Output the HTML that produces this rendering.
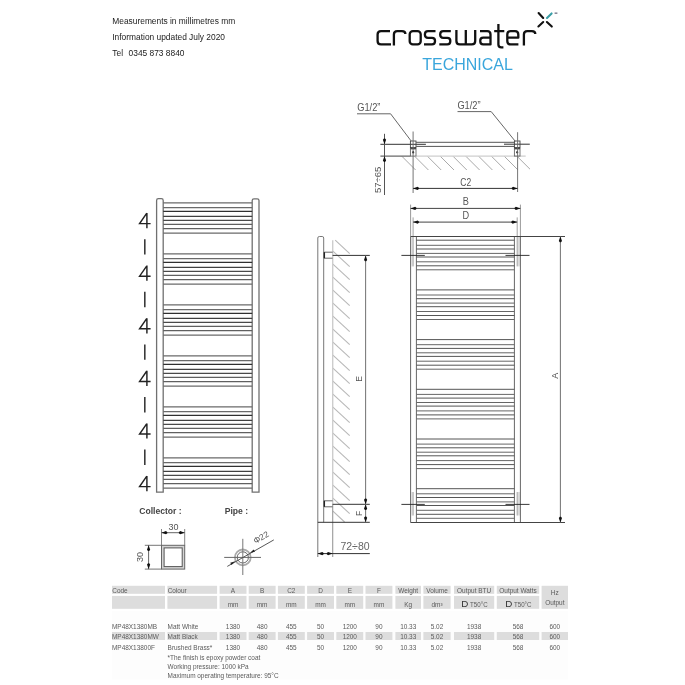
<!DOCTYPE html>
<html><head><meta charset="utf-8"><style>
html,body{margin:0;padding:0;background:#fff;}
body{width:685px;height:685px;overflow:hidden;}
svg{display:block;will-change:transform;font-family:"Liberation Sans",sans-serif;}
</style></head><body>
<svg width="685" height="685" viewBox="0 0 685 685">
<rect width="685" height="685" fill="#fff"/>
<text x="112.3" y="24.2" font-size="8.4" fill="#222" text-anchor="start" font-weight="normal" >Measurements in millimetres mm</text>
<text x="112.3" y="39.9" font-size="8.4" fill="#222" text-anchor="start" font-weight="normal" >Information updated July 2020</text>
<text x="112.3" y="55.6" font-size="8.4" fill="#222" text-anchor="start" font-weight="normal" >Tel</text>
<text x="128.6" y="55.6" font-size="8.4" fill="#222" text-anchor="start" font-weight="normal" >0345 873 8840</text>
<g fill="none" stroke="#111" stroke-width="2.3" stroke-linecap="butt" stroke-linejoin="round">
<path d="M390,31.1 H381 Q377.6,31.1 377.6,34.5 V41 Q377.6,44.4 381,44.4 H391"/>
<path d="M393.9,45.6 V34.5 Q393.9,31.1 397.3,31.1 H402 Q405.4,31.1 405.4,34"/>
<rect x="409.7" y="31.1" width="11" height="13.3" rx="3.2"/>
<path d="M435.5,31.1 H428 Q424.9,31.1 424.9,34.2 V34.8 Q424.9,37.8 428,37.8 H432 Q435,37.8 435,40.8 V41.3 Q435,44.4 432,44.4 H424"/>
<path d="M450.8,31.1 H443.3 Q440.2,31.1 440.2,34.2 V34.8 Q440.2,37.8 443.3,37.8 H447.3 Q450.3,37.8 450.3,40.8 V41.3 Q450.3,44.4 447.3,44.4 H439.3"/>
<path d="M456.4,30 V41 Q456.4,44.4 459.8,44.4 H471.8 Q475.2,44.4 475.2,41 V30 M465.8,30 V44.4"/>
<path d="M480,31.1 H487.3 Q490.5,31.1 490.5,34.5 V44.4 H483.2 Q480.3,44.4 480.3,41.5 V40.3 Q480.3,37.6 483.2,37.6 H490.5"/>
<path d="M498.4,24 V44.5 Q498.4,47.4 501.3,47.4 H503.4 M494.2,31.1 H504.3"/>
<path d="M518.4,44.4 H510.6 Q507.3,44.4 507.3,41 V34.5 Q507.3,31.1 510.6,31.1 H515 Q518.3,31.1 518.3,34.5 V37.7 H507.3"/>
<path d="M523.9,45.6 V34.5 Q523.9,31.1 527.3,31.1 H531.9 Q535.3,31.1 535.3,34"/>
</g>
<g stroke-width="2.1" stroke-linecap="round">
<line x1="538.6" y1="13" x2="543.2" y2="18" stroke="#111"/>
<line x1="538.4" y1="26.5" x2="543.2" y2="22" stroke="#111"/>
<line x1="546.9" y1="22" x2="551.8" y2="26.6" stroke="#111"/>
<line x1="547" y1="17.9" x2="551.6" y2="13.4" stroke="#3b9ea6"/>
</g>
<rect x="554.6" y="12.4" width="2.8" height="1.6" fill="#8a8a9a"/>
<text x="422.2" y="69.7" font-size="16" fill="#3aa6dc" text-anchor="start" font-weight="normal" >TECHNICAL</text>
<g fill="none" stroke="#666" stroke-width="1">
<path d="M156.6,492.2 V200.4 Q156.6,198.6 158.4,198.6 H161.4 Q163.2,198.6 163.2,200.4 V492.2 Z" stroke="#707070" stroke-width="1.3"/>
<path d="M252.2,492.2 V200.6 Q252.2,198.8 254,198.8 H257.2 Q259,198.8 259,200.6 V492.2 Z" stroke="#707070" stroke-width="1.3"/>
</g>
<line x1="163.2" y1="202.9" x2="252.2" y2="202.9" stroke="#6a6a6a" stroke-width="1.25"/>
<line x1="163.2" y1="207.7" x2="252.2" y2="207.7" stroke="#6a6a6a" stroke-width="1.25"/>
<line x1="163.2" y1="211.4" x2="252.2" y2="211.4" stroke="#303030" stroke-width="1.25"/>
<line x1="163.2" y1="216.3" x2="252.2" y2="216.3" stroke="#404040" stroke-width="1.25"/>
<line x1="163.2" y1="220.3" x2="252.2" y2="220.3" stroke="#4a4a4a" stroke-width="1.25"/>
<line x1="163.2" y1="224.4" x2="252.2" y2="224.4" stroke="#606060" stroke-width="1.25"/>
<line x1="163.2" y1="228.5" x2="252.2" y2="228.5" stroke="#606060" stroke-width="1.25"/>
<line x1="163.2" y1="233.1" x2="252.2" y2="233.1" stroke="#6a6a6a" stroke-width="1.25"/>
<line x1="163.2" y1="253.9" x2="252.2" y2="253.9" stroke="#6a6a6a" stroke-width="1.25"/>
<line x1="163.2" y1="258.7" x2="252.2" y2="258.7" stroke="#6a6a6a" stroke-width="1.25"/>
<line x1="163.2" y1="262.4" x2="252.2" y2="262.4" stroke="#303030" stroke-width="1.25"/>
<line x1="163.2" y1="267.3" x2="252.2" y2="267.3" stroke="#404040" stroke-width="1.25"/>
<line x1="163.2" y1="271.3" x2="252.2" y2="271.3" stroke="#4a4a4a" stroke-width="1.25"/>
<line x1="163.2" y1="275.4" x2="252.2" y2="275.4" stroke="#606060" stroke-width="1.25"/>
<line x1="163.2" y1="279.5" x2="252.2" y2="279.5" stroke="#606060" stroke-width="1.25"/>
<line x1="163.2" y1="284.1" x2="252.2" y2="284.1" stroke="#6a6a6a" stroke-width="1.25"/>
<line x1="163.2" y1="304.9" x2="252.2" y2="304.9" stroke="#6a6a6a" stroke-width="1.25"/>
<line x1="163.2" y1="309.7" x2="252.2" y2="309.7" stroke="#6a6a6a" stroke-width="1.25"/>
<line x1="163.2" y1="313.4" x2="252.2" y2="313.4" stroke="#303030" stroke-width="1.25"/>
<line x1="163.2" y1="318.3" x2="252.2" y2="318.3" stroke="#404040" stroke-width="1.25"/>
<line x1="163.2" y1="322.3" x2="252.2" y2="322.3" stroke="#4a4a4a" stroke-width="1.25"/>
<line x1="163.2" y1="326.4" x2="252.2" y2="326.4" stroke="#606060" stroke-width="1.25"/>
<line x1="163.2" y1="330.5" x2="252.2" y2="330.5" stroke="#606060" stroke-width="1.25"/>
<line x1="163.2" y1="335.1" x2="252.2" y2="335.1" stroke="#6a6a6a" stroke-width="1.25"/>
<line x1="163.2" y1="355.9" x2="252.2" y2="355.9" stroke="#6a6a6a" stroke-width="1.25"/>
<line x1="163.2" y1="360.7" x2="252.2" y2="360.7" stroke="#6a6a6a" stroke-width="1.25"/>
<line x1="163.2" y1="364.4" x2="252.2" y2="364.4" stroke="#303030" stroke-width="1.25"/>
<line x1="163.2" y1="369.3" x2="252.2" y2="369.3" stroke="#404040" stroke-width="1.25"/>
<line x1="163.2" y1="373.3" x2="252.2" y2="373.3" stroke="#4a4a4a" stroke-width="1.25"/>
<line x1="163.2" y1="377.4" x2="252.2" y2="377.4" stroke="#606060" stroke-width="1.25"/>
<line x1="163.2" y1="381.5" x2="252.2" y2="381.5" stroke="#606060" stroke-width="1.25"/>
<line x1="163.2" y1="386.1" x2="252.2" y2="386.1" stroke="#6a6a6a" stroke-width="1.25"/>
<line x1="163.2" y1="406.9" x2="252.2" y2="406.9" stroke="#6a6a6a" stroke-width="1.25"/>
<line x1="163.2" y1="411.7" x2="252.2" y2="411.7" stroke="#6a6a6a" stroke-width="1.25"/>
<line x1="163.2" y1="415.4" x2="252.2" y2="415.4" stroke="#303030" stroke-width="1.25"/>
<line x1="163.2" y1="420.3" x2="252.2" y2="420.3" stroke="#404040" stroke-width="1.25"/>
<line x1="163.2" y1="424.3" x2="252.2" y2="424.3" stroke="#4a4a4a" stroke-width="1.25"/>
<line x1="163.2" y1="428.4" x2="252.2" y2="428.4" stroke="#606060" stroke-width="1.25"/>
<line x1="163.2" y1="432.5" x2="252.2" y2="432.5" stroke="#606060" stroke-width="1.25"/>
<line x1="163.2" y1="437.1" x2="252.2" y2="437.1" stroke="#6a6a6a" stroke-width="1.25"/>
<line x1="163.2" y1="457.9" x2="252.2" y2="457.9" stroke="#6a6a6a" stroke-width="1.25"/>
<line x1="163.2" y1="462.7" x2="252.2" y2="462.7" stroke="#6a6a6a" stroke-width="1.25"/>
<line x1="163.2" y1="466.4" x2="252.2" y2="466.4" stroke="#303030" stroke-width="1.25"/>
<line x1="163.2" y1="471.3" x2="252.2" y2="471.3" stroke="#404040" stroke-width="1.25"/>
<line x1="163.2" y1="475.3" x2="252.2" y2="475.3" stroke="#4a4a4a" stroke-width="1.25"/>
<line x1="163.2" y1="479.4" x2="252.2" y2="479.4" stroke="#606060" stroke-width="1.25"/>
<line x1="163.2" y1="483.5" x2="252.2" y2="483.5" stroke="#606060" stroke-width="1.25"/>
<line x1="163.2" y1="488.1" x2="252.2" y2="488.1" stroke="#6a6a6a" stroke-width="1.25"/>
<path transform="translate(0,0.0)" d="M146.8,213.2 L139.6,223.6 H150.6 M146.9,213 V228.2" fill="none" stroke="#222" stroke-width="1.45" stroke-linejoin="miter"/>
<path transform="translate(0,52.6)" d="M146.8,213.2 L139.6,223.6 H150.6 M146.9,213 V228.2" fill="none" stroke="#222" stroke-width="1.45" stroke-linejoin="miter"/>
<path transform="translate(0,105.2)" d="M146.8,213.2 L139.6,223.6 H150.6 M146.9,213 V228.2" fill="none" stroke="#222" stroke-width="1.45" stroke-linejoin="miter"/>
<path transform="translate(0,157.8)" d="M146.8,213.2 L139.6,223.6 H150.6 M146.9,213 V228.2" fill="none" stroke="#222" stroke-width="1.45" stroke-linejoin="miter"/>
<path transform="translate(0,210.4)" d="M146.8,213.2 L139.6,223.6 H150.6 M146.9,213 V228.2" fill="none" stroke="#222" stroke-width="1.45" stroke-linejoin="miter"/>
<path transform="translate(0,263.0)" d="M146.8,213.2 L139.6,223.6 H150.6 M146.9,213 V228.2" fill="none" stroke="#222" stroke-width="1.45" stroke-linejoin="miter"/>
<line x1="144.8" y1="239.2" x2="144.8" y2="254.6" stroke="#3a3a3a" stroke-width="1.6"/>
<line x1="144.8" y1="291.8" x2="144.8" y2="307.2" stroke="#3a3a3a" stroke-width="1.6"/>
<line x1="144.8" y1="344.4" x2="144.8" y2="359.8" stroke="#3a3a3a" stroke-width="1.6"/>
<line x1="144.8" y1="397.0" x2="144.8" y2="412.4" stroke="#3a3a3a" stroke-width="1.6"/>
<line x1="144.8" y1="449.6" x2="144.8" y2="465.0" stroke="#3a3a3a" stroke-width="1.6"/>
<g stroke="#bbb" stroke-width="0.9">
<line x1="402.2" y1="156.6" x2="415.6" y2="170" stroke="#a4a4a4" stroke-width="0.95"/>
<line x1="415.0" y1="156.6" x2="428.4" y2="170" stroke="#a4a4a4" stroke-width="0.95"/>
<line x1="427.8" y1="156.6" x2="441.2" y2="170" stroke="#a4a4a4" stroke-width="0.95"/>
<line x1="440.6" y1="156.6" x2="454.0" y2="170" stroke="#a4a4a4" stroke-width="0.95"/>
<line x1="453.4" y1="156.6" x2="466.8" y2="170" stroke="#a4a4a4" stroke-width="0.95"/>
<line x1="466.2" y1="156.6" x2="479.6" y2="170" stroke="#a4a4a4" stroke-width="0.95"/>
<line x1="479.0" y1="156.6" x2="492.4" y2="170" stroke="#a4a4a4" stroke-width="0.95"/>
<line x1="491.8" y1="156.6" x2="505.2" y2="170" stroke="#a4a4a4" stroke-width="0.95"/>
<line x1="504.6" y1="156.6" x2="518.0" y2="170" stroke="#a4a4a4" stroke-width="0.95"/>
<line x1="517.4" y1="156.6" x2="530" y2="169.2" stroke="#a4a4a4" stroke-width="0.95"/>
</g>
<line x1="416.2" y1="156.1" x2="525.7" y2="156.1" stroke="#bbb" stroke-width="0.9"/>
<line x1="380.4" y1="156.1" x2="410.5" y2="156.1" stroke="#444" stroke-width="1"/>
<line x1="380.4" y1="144.3" x2="425.9" y2="144.3" stroke="#333" stroke-width="1"/>
<line x1="504" y1="144.2" x2="529.8" y2="144.2" stroke="#333" stroke-width="1"/>
<line x1="416.2" y1="142.3" x2="514.3" y2="142.3" stroke="#555" stroke-width="1"/>
<line x1="416.2" y1="146.4" x2="514.3" y2="146.4" stroke="#555" stroke-width="1"/>
<rect x="410.4" y="141" width="5.6" height="7.2" fill="none" stroke="#444" stroke-width="0.9"/>
<rect x="410.4" y="147.3" width="5.6" height="1.5" fill="#222"/>
<rect x="410.4" y="149" width="5.6" height="7.1" fill="none" stroke="#666" stroke-width="0.9"/>
<ellipse cx="413.2" cy="152.3" rx="0.9" ry="1.3" fill="#111"/>
<rect x="514.4000000000001" y="141" width="5.6" height="7.2" fill="none" stroke="#444" stroke-width="0.9"/>
<rect x="514.4000000000001" y="147.3" width="5.6" height="1.5" fill="#222"/>
<rect x="514.4000000000001" y="149" width="5.6" height="7.1" fill="none" stroke="#666" stroke-width="0.9"/>
<ellipse cx="517.2" cy="152.3" rx="0.9" ry="1.3" fill="#111"/>
<line x1="413.1" y1="131.5" x2="413.1" y2="193" stroke="#666" stroke-width="0.9"/>
<line x1="517.6" y1="132.2" x2="517.6" y2="192" stroke="#666" stroke-width="0.9"/>
<polyline points="357,113.8 390.6,113.8 411,140.8" fill="none" stroke="#555" stroke-width="0.9"/>
<polyline points="457.5,111.6 491.2,111.6 515.2,141.2" fill="none" stroke="#555" stroke-width="0.9"/>
<text x="357.2" y="111.2" font-size="10" fill="#555" text-anchor="start" font-weight="normal" textLength="23.2" lengthAdjust="spacingAndGlyphs">G1/2&#8221;</text>
<text x="457.4" y="108.9" font-size="10" fill="#555" text-anchor="start" font-weight="normal" textLength="23.2" lengthAdjust="spacingAndGlyphs">G1/2&#8221;</text>
<line x1="384.5" y1="133.8" x2="384.5" y2="195" stroke="#555" stroke-width="1"/>
<polygon points="384.5,144.3 382.9,139.78 383.94,138.5 385.06,138.5 386.1,139.78" fill="#111"/>
<polygon points="384.5,156.1 382.9,160.62 383.94,161.9 385.06,161.9 386.1,160.62" fill="#111"/>
<text transform="translate(381.3,193) rotate(-90)" font-size="9.5" fill="#555">57&#247;65</text>
<line x1="413.1" y1="188.4" x2="517.6" y2="188.4" stroke="#333" stroke-width="1"/>
<polygon points="413.1,188.4 417.62,186.8 418.9,187.84 418.9,188.96 417.62,190.0" fill="#111"/>
<polygon points="517.6,188.4 513.08,186.8 511.8,187.84 511.8,188.96 513.08,190.0" fill="#111"/>
<text transform="translate(465.7,185.7) scale(0.85,1)" font-size="10" fill="#555" text-anchor="middle">C2</text>
<line x1="335.2" y1="240.2" x2="349.7" y2="253.7" stroke="#b8b8b8" stroke-width="1.1"/>
<line x1="332.9" y1="251.1" x2="349.7" y2="266.7" stroke="#b8b8b8" stroke-width="1.1"/>
<line x1="332.9" y1="264.1" x2="349.7" y2="279.7" stroke="#b8b8b8" stroke-width="1.1"/>
<line x1="332.9" y1="277.1" x2="349.7" y2="292.7" stroke="#b8b8b8" stroke-width="1.1"/>
<line x1="332.9" y1="290.1" x2="349.7" y2="305.7" stroke="#b8b8b8" stroke-width="1.1"/>
<line x1="332.9" y1="303.1" x2="349.7" y2="318.7" stroke="#b8b8b8" stroke-width="1.1"/>
<line x1="332.9" y1="316.1" x2="349.7" y2="331.7" stroke="#b8b8b8" stroke-width="1.1"/>
<line x1="332.9" y1="329.1" x2="349.7" y2="344.7" stroke="#b8b8b8" stroke-width="1.1"/>
<line x1="332.9" y1="342.1" x2="349.7" y2="357.7" stroke="#b8b8b8" stroke-width="1.1"/>
<line x1="332.9" y1="355.1" x2="349.7" y2="370.7" stroke="#b8b8b8" stroke-width="1.1"/>
<line x1="332.9" y1="368.1" x2="349.7" y2="383.7" stroke="#b8b8b8" stroke-width="1.1"/>
<line x1="332.9" y1="381.1" x2="349.7" y2="396.7" stroke="#b8b8b8" stroke-width="1.1"/>
<line x1="332.9" y1="394.1" x2="349.7" y2="409.7" stroke="#b8b8b8" stroke-width="1.1"/>
<line x1="332.9" y1="407.1" x2="349.7" y2="422.7" stroke="#b8b8b8" stroke-width="1.1"/>
<line x1="332.9" y1="420.1" x2="349.7" y2="435.7" stroke="#b8b8b8" stroke-width="1.1"/>
<line x1="332.9" y1="433.1" x2="349.7" y2="448.7" stroke="#b8b8b8" stroke-width="1.1"/>
<line x1="332.9" y1="446.1" x2="349.7" y2="461.7" stroke="#b8b8b8" stroke-width="1.1"/>
<line x1="332.9" y1="459.1" x2="349.7" y2="474.7" stroke="#b8b8b8" stroke-width="1.1"/>
<line x1="332.9" y1="472.1" x2="349.7" y2="487.7" stroke="#b8b8b8" stroke-width="1.1"/>
<line x1="332.9" y1="485.1" x2="349.7" y2="500.7" stroke="#b8b8b8" stroke-width="1.1"/>
<line x1="332.9" y1="498.1" x2="349.7" y2="513.7" stroke="#b8b8b8" stroke-width="1.1"/>
<line x1="332.9" y1="511.1" x2="344.6" y2="522" stroke="#b8b8b8" stroke-width="1.1"/>
<line x1="332.7" y1="240.2" x2="332.7" y2="504.3" stroke="#cdcdcd" stroke-width="1.4"/>
<line x1="332.7" y1="504.3" x2="332.7" y2="557" stroke="#999" stroke-width="1.1"/>
<path d="M317.8,557 V238 Q317.8,236.5 319.3,236.5 H322.2 Q323.7,236.5 323.7,238 V522.3" fill="none" stroke="#777" stroke-width="1"/>
<path d="M332.6,252.2 H324.2 V258.2 H332.6" fill="none" stroke="#666" stroke-width="1"/>
<line x1="324.4" y1="252.2" x2="324.4" y2="258.2" stroke="#222" stroke-width="1.3"/>
<path d="M332.6,500.8 H324.2 V506.8 H332.6" fill="none" stroke="#666" stroke-width="1"/>
<line x1="324.4" y1="500.8" x2="324.4" y2="506.8" stroke="#222" stroke-width="1.3"/>
<line x1="332.6" y1="255.4" x2="369.8" y2="255.4" stroke="#333" stroke-width="1"/>
<line x1="332.6" y1="504.3" x2="369.8" y2="504.3" stroke="#333" stroke-width="1"/>
<line x1="317.8" y1="522.3" x2="369.8" y2="522.3" stroke="#333" stroke-width="1"/>
<line x1="365.6" y1="255.4" x2="365.6" y2="522.3" stroke="#777" stroke-width="1.05"/>
<polygon points="365.6,255.4 364.0,259.92 365.04,261.2 366.16,261.2 367.2,259.92" fill="#111"/>
<polygon points="365.6,504.3 364.0,499.78 365.04,498.5 366.16,498.5 367.2,499.78" fill="#111"/>
<polygon points="365.6,504.3 364.0,508.82 365.04,510.1 366.16,510.1 367.2,508.82" fill="#111"/>
<polygon points="365.6,522.3 364.0,517.78 365.04,516.5 366.16,516.5 367.2,517.78" fill="#111"/>
<text transform="translate(362.3,379) rotate(-90)" font-size="8.5" fill="#555" text-anchor="middle">E</text>
<text transform="translate(362.3,513.3) rotate(-90)" font-size="8.5" fill="#555" text-anchor="middle">F</text>
<line x1="317.8" y1="553.6" x2="369.8" y2="553.6" stroke="#333" stroke-width="1"/>
<polygon points="317.8,553.6 322.32,552.0 323.6,553.04 323.6,554.16 322.32,555.2" fill="#111"/>
<polygon points="332.6,553.6 328.08,552.0 326.8,553.04 326.8,554.16 328.08,555.2" fill="#111"/>
<text x="355" y="550.3" font-size="10.5" fill="#666" text-anchor="middle" font-weight="normal" >72&#247;80</text>
<line x1="410.6" y1="204.6" x2="410.6" y2="236.5" stroke="#999" stroke-width="1"/>
<line x1="410.6" y1="236.5" x2="410.6" y2="522.5" stroke="#666" stroke-width="1"/>
<rect x="411.1" y="236.5" width="1.5" height="29.9" fill="#ddd"/>
<rect x="517.7" y="236.5" width="2.2" height="29.9" fill="#ddd"/>
<rect x="411.1" y="492" width="1.5" height="23.5" fill="#ddd"/>
<rect x="517.7" y="492" width="2.2" height="23.5" fill="#ddd"/>
<line x1="416.4" y1="236.5" x2="416.4" y2="522.5" stroke="#666" stroke-width="1"/>
<line x1="413.1" y1="217.4" x2="413.1" y2="266.4" stroke="#999" stroke-width="0.9"/>
<line x1="413.1" y1="492" x2="413.1" y2="515.5" stroke="#999" stroke-width="0.9"/>
<line x1="520.4" y1="204.6" x2="520.4" y2="236.5" stroke="#999" stroke-width="1"/>
<line x1="520.4" y1="236.5" x2="520.4" y2="522.5" stroke="#666" stroke-width="1"/>
<line x1="514.4" y1="236.5" x2="514.4" y2="522.5" stroke="#666" stroke-width="1"/>
<line x1="517.2" y1="217.4" x2="517.2" y2="266.4" stroke="#999" stroke-width="0.9"/>
<line x1="517.2" y1="492" x2="517.2" y2="515.5" stroke="#999" stroke-width="0.9"/>
<line x1="410.6" y1="236.5" x2="565" y2="236.5" stroke="#444" stroke-width="1"/>
<line x1="410.6" y1="522.5" x2="565" y2="522.5" stroke="#444" stroke-width="1"/>
<line x1="416.4" y1="240.2" x2="514.4" y2="240.2" stroke="#555" stroke-width="1"/>
<line x1="416.4" y1="245.3" x2="514.4" y2="245.3" stroke="#666" stroke-width="1"/>
<line x1="416.4" y1="249.0" x2="514.4" y2="249.0" stroke="#555" stroke-width="1"/>
<line x1="416.4" y1="253.4" x2="514.4" y2="253.4" stroke="#666" stroke-width="1"/>
<line x1="416.4" y1="257.0" x2="514.4" y2="257.0" stroke="#555" stroke-width="1"/>
<line x1="416.4" y1="261.8" x2="514.4" y2="261.8" stroke="#666" stroke-width="1"/>
<line x1="416.4" y1="265.8" x2="514.4" y2="265.8" stroke="#555" stroke-width="1"/>
<line x1="416.4" y1="269.8" x2="514.4" y2="269.8" stroke="#666" stroke-width="1"/>
<line x1="416.4" y1="289.9" x2="514.4" y2="289.9" stroke="#555" stroke-width="1"/>
<line x1="416.4" y1="295.0" x2="514.4" y2="295.0" stroke="#666" stroke-width="1"/>
<line x1="416.4" y1="298.7" x2="514.4" y2="298.7" stroke="#555" stroke-width="1"/>
<line x1="416.4" y1="303.1" x2="514.4" y2="303.1" stroke="#666" stroke-width="1"/>
<line x1="416.4" y1="306.7" x2="514.4" y2="306.7" stroke="#555" stroke-width="1"/>
<line x1="416.4" y1="311.5" x2="514.4" y2="311.5" stroke="#666" stroke-width="1"/>
<line x1="416.4" y1="315.5" x2="514.4" y2="315.5" stroke="#555" stroke-width="1"/>
<line x1="416.4" y1="319.5" x2="514.4" y2="319.5" stroke="#666" stroke-width="1"/>
<line x1="416.4" y1="339.6" x2="514.4" y2="339.6" stroke="#555" stroke-width="1"/>
<line x1="416.4" y1="344.7" x2="514.4" y2="344.7" stroke="#666" stroke-width="1"/>
<line x1="416.4" y1="348.4" x2="514.4" y2="348.4" stroke="#555" stroke-width="1"/>
<line x1="416.4" y1="352.8" x2="514.4" y2="352.8" stroke="#666" stroke-width="1"/>
<line x1="416.4" y1="356.4" x2="514.4" y2="356.4" stroke="#555" stroke-width="1"/>
<line x1="416.4" y1="361.2" x2="514.4" y2="361.2" stroke="#666" stroke-width="1"/>
<line x1="416.4" y1="365.2" x2="514.4" y2="365.2" stroke="#555" stroke-width="1"/>
<line x1="416.4" y1="369.2" x2="514.4" y2="369.2" stroke="#666" stroke-width="1"/>
<line x1="416.4" y1="389.3" x2="514.4" y2="389.3" stroke="#555" stroke-width="1"/>
<line x1="416.4" y1="394.4" x2="514.4" y2="394.4" stroke="#666" stroke-width="1"/>
<line x1="416.4" y1="398.1" x2="514.4" y2="398.1" stroke="#555" stroke-width="1"/>
<line x1="416.4" y1="402.5" x2="514.4" y2="402.5" stroke="#666" stroke-width="1"/>
<line x1="416.4" y1="406.1" x2="514.4" y2="406.1" stroke="#555" stroke-width="1"/>
<line x1="416.4" y1="410.9" x2="514.4" y2="410.9" stroke="#666" stroke-width="1"/>
<line x1="416.4" y1="414.9" x2="514.4" y2="414.9" stroke="#555" stroke-width="1"/>
<line x1="416.4" y1="418.9" x2="514.4" y2="418.9" stroke="#666" stroke-width="1"/>
<line x1="416.4" y1="439.0" x2="514.4" y2="439.0" stroke="#555" stroke-width="1"/>
<line x1="416.4" y1="444.1" x2="514.4" y2="444.1" stroke="#666" stroke-width="1"/>
<line x1="416.4" y1="447.8" x2="514.4" y2="447.8" stroke="#555" stroke-width="1"/>
<line x1="416.4" y1="452.2" x2="514.4" y2="452.2" stroke="#666" stroke-width="1"/>
<line x1="416.4" y1="455.8" x2="514.4" y2="455.8" stroke="#555" stroke-width="1"/>
<line x1="416.4" y1="460.6" x2="514.4" y2="460.6" stroke="#666" stroke-width="1"/>
<line x1="416.4" y1="464.6" x2="514.4" y2="464.6" stroke="#555" stroke-width="1"/>
<line x1="416.4" y1="468.6" x2="514.4" y2="468.6" stroke="#666" stroke-width="1"/>
<line x1="416.4" y1="488.7" x2="514.4" y2="488.7" stroke="#555" stroke-width="1"/>
<line x1="416.4" y1="493.8" x2="514.4" y2="493.8" stroke="#666" stroke-width="1"/>
<line x1="416.4" y1="497.5" x2="514.4" y2="497.5" stroke="#555" stroke-width="1"/>
<line x1="416.4" y1="501.9" x2="514.4" y2="501.9" stroke="#666" stroke-width="1"/>
<line x1="416.4" y1="505.5" x2="514.4" y2="505.5" stroke="#555" stroke-width="1"/>
<line x1="416.4" y1="510.3" x2="514.4" y2="510.3" stroke="#666" stroke-width="1"/>
<line x1="416.4" y1="514.3" x2="514.4" y2="514.3" stroke="#555" stroke-width="1"/>
<line x1="416.4" y1="518.3" x2="514.4" y2="518.3" stroke="#666" stroke-width="1"/>
<line x1="401.4" y1="255.4" x2="424.8" y2="255.4" stroke="#222" stroke-width="0.9"/>
<line x1="505.5" y1="255.4" x2="529.5" y2="255.4" stroke="#222" stroke-width="0.9"/>
<line x1="401.4" y1="504.4" x2="424.8" y2="504.4" stroke="#222" stroke-width="0.9"/>
<line x1="505.5" y1="504.4" x2="529.5" y2="504.4" stroke="#222" stroke-width="0.9"/>
<line x1="410.6" y1="208.4" x2="520.4" y2="208.4" stroke="#444" stroke-width="1"/>
<polygon points="410.6,208.4 415.12,206.8 416.4,207.84 416.4,208.96 415.12,210.0" fill="#111"/>
<polygon points="520.4,208.4 515.88,206.8 514.6,207.84 514.6,208.96 515.88,210.0" fill="#111"/>
<line x1="413.1" y1="222.1" x2="517.2" y2="222.1" stroke="#444" stroke-width="1"/>
<polygon points="413.1,222.1 417.62,220.5 418.9,221.54 418.9,222.66 417.62,223.7" fill="#111"/>
<polygon points="517.2,222.1 512.68,220.5 511.4,221.54 511.4,222.66 512.68,223.7" fill="#111"/>
<text transform="translate(465.8,205.4) scale(0.9,1)" font-size="10.2" fill="#555" text-anchor="middle">B</text>
<text transform="translate(465.8,218.7) scale(0.9,1)" font-size="10.2" fill="#555" text-anchor="middle">D</text>
<line x1="560.4" y1="236.5" x2="560.4" y2="522.5" stroke="#777" stroke-width="1.05"/>
<polygon points="560.4,236.5 558.8,241.02 559.84,242.3 560.96,242.3 562.0,241.02" fill="#111"/>
<polygon points="560.4,522.5 558.8,517.98 559.84,516.7 560.96,516.7 562.0,517.98" fill="#111"/>
<text transform="translate(557.6,375.8) rotate(-90)" font-size="9" fill="#555" text-anchor="middle">A</text>
<text x="139.2" y="513.8" font-size="8.6" fill="#444" text-anchor="start" font-weight="bold" >Collector :</text>
<text x="224.7" y="513.8" font-size="8.6" fill="#444" text-anchor="start" font-weight="bold" >Pipe :</text>
<rect x="161.5" y="545.3" width="23.2" height="23.8" fill="#d4d4d4" stroke="#666" stroke-width="1"/>
<rect x="164.1" y="547.9" width="18.1" height="18.7" fill="#fff" stroke="#555" stroke-width="1"/>
<line x1="161.5" y1="529" x2="161.5" y2="545.3" stroke="#777" stroke-width="0.9"/>
<line x1="184.7" y1="529" x2="184.7" y2="545.3" stroke="#777" stroke-width="0.9"/>
<line x1="161.5" y1="532.7" x2="184.7" y2="532.7" stroke="#555" stroke-width="0.9"/>
<polygon points="161.5,532.7 166.02,531.1 167.3,532.14 167.3,533.26 166.02,534.3" fill="#111"/>
<polygon points="184.7,532.7 180.18,531.1 178.9,532.14 178.9,533.26 180.18,534.3" fill="#111"/>
<text x="173.4" y="529.6" font-size="9" fill="#555" text-anchor="middle" font-weight="normal" >30</text>
<line x1="144.8" y1="545.3" x2="161.5" y2="545.3" stroke="#666" stroke-width="0.9"/>
<line x1="144.8" y1="569.1" x2="161.5" y2="569.1" stroke="#666" stroke-width="0.9"/>
<line x1="148.6" y1="545.3" x2="148.6" y2="569.1" stroke="#555" stroke-width="0.9"/>
<polygon points="148.6,545.3 147.0,549.82 148.04,551.1 149.16,551.1 150.2,549.82" fill="#111"/>
<polygon points="148.6,569.1 147.0,564.58 148.04,563.3 149.16,563.3 150.2,564.58" fill="#111"/>
<text transform="translate(143.3,557) rotate(-90)" font-size="9" fill="#555" text-anchor="middle">30</text>
<circle cx="242.8" cy="557.4" r="7.9" fill="none" stroke="#aaa" stroke-width="1.8"/>
<circle cx="242.8" cy="557.4" r="5.6" fill="none" stroke="#666" stroke-width="1"/>
<line x1="224.2" y1="557.4" x2="261" y2="557.4" stroke="#666" stroke-width="1"/>
<line x1="242.8" y1="538.8" x2="242.8" y2="575" stroke="#777" stroke-width="1"/>
<line x1="227.3" y1="566.4" x2="273.8" y2="539.9" stroke="#444" stroke-width="0.9"/>
<g transform="translate(242.6,557.2) rotate(-29.7)">
<polygon points="-8.3,0 -13.5,-1.3 -13.5,1.3" fill="#222"/>
<polygon points="8.3,0 13.5,-1.3 13.5,1.3" fill="#222"/>
</g>
<text transform="translate(262.5,540) rotate(-30)" font-size="8.5" fill="#555" text-anchor="middle">&#934;22</text>
<rect x="112" y="611" width="456" height="68.5" fill="#fdfdfd"/>
<rect x="112" y="585.8" width="53" height="8" fill="#dddddd"/>
<rect x="112" y="595.9" width="53" height="12.9" fill="#dddddd"/>
<rect x="112" y="632" width="53" height="8" fill="#dddddd"/>
<rect x="167.4" y="585.8" width="49.7" height="8" fill="#dddddd"/>
<rect x="167.4" y="595.9" width="49.7" height="12.9" fill="#dddddd"/>
<rect x="167.4" y="632" width="49.7" height="8" fill="#dddddd"/>
<rect x="219.6" y="585.8" width="26.9" height="8" fill="#dddddd"/>
<rect x="219.6" y="595.9" width="26.9" height="12.9" fill="#dddddd"/>
<rect x="219.6" y="632" width="26.9" height="8" fill="#dddddd"/>
<rect x="248.7" y="585.8" width="26.9" height="8" fill="#dddddd"/>
<rect x="248.7" y="595.9" width="26.9" height="12.9" fill="#dddddd"/>
<rect x="248.7" y="632" width="26.9" height="8" fill="#dddddd"/>
<rect x="277.9" y="585.8" width="26.9" height="8" fill="#dddddd"/>
<rect x="277.9" y="595.9" width="26.9" height="12.9" fill="#dddddd"/>
<rect x="277.9" y="632" width="26.9" height="8" fill="#dddddd"/>
<rect x="307.1" y="585.8" width="26.9" height="8" fill="#dddddd"/>
<rect x="307.1" y="595.9" width="26.9" height="12.9" fill="#dddddd"/>
<rect x="307.1" y="632" width="26.9" height="8" fill="#dddddd"/>
<rect x="336.3" y="585.8" width="26.9" height="8" fill="#dddddd"/>
<rect x="336.3" y="595.9" width="26.9" height="12.9" fill="#dddddd"/>
<rect x="336.3" y="632" width="26.9" height="8" fill="#dddddd"/>
<rect x="365.5" y="585.8" width="26.9" height="8" fill="#dddddd"/>
<rect x="365.5" y="595.9" width="26.9" height="12.9" fill="#dddddd"/>
<rect x="365.5" y="632" width="26.9" height="8" fill="#dddddd"/>
<rect x="395.4" y="585.8" width="25.6" height="8" fill="#dddddd"/>
<rect x="395.4" y="595.9" width="25.6" height="12.9" fill="#dddddd"/>
<rect x="395.4" y="632" width="25.6" height="8" fill="#dddddd"/>
<rect x="423.4" y="585.8" width="27.2" height="8" fill="#dddddd"/>
<rect x="423.4" y="595.9" width="27.2" height="12.9" fill="#dddddd"/>
<rect x="423.4" y="632" width="27.2" height="8" fill="#dddddd"/>
<rect x="454" y="585.8" width="40.2" height="8" fill="#dddddd"/>
<rect x="454" y="595.9" width="40.2" height="12.9" fill="#dddddd"/>
<rect x="454" y="632" width="40.2" height="8" fill="#dddddd"/>
<rect x="496.8" y="585.8" width="42.4" height="8" fill="#dddddd"/>
<rect x="496.8" y="595.9" width="42.4" height="12.9" fill="#dddddd"/>
<rect x="496.8" y="632" width="42.4" height="8" fill="#dddddd"/>
<rect x="541.6" y="585.8" width="26.4" height="23" fill="#dddddd"/>
<rect x="541.6" y="632" width="26.4" height="8" fill="#dddddd"/>
<text x="112.3" y="592.6" font-size="6.45" fill="#5a5a5a" text-anchor="start" font-weight="normal" >Code</text>
<text x="167.70000000000002" y="592.6" font-size="6.45" fill="#5a5a5a" text-anchor="start" font-weight="normal" >Colour</text>
<text x="233.0" y="592.6" font-size="6.45" fill="#5a5a5a" text-anchor="middle" font-weight="normal" >A</text>
<text x="262.1" y="592.6" font-size="6.45" fill="#5a5a5a" text-anchor="middle" font-weight="normal" >B</text>
<text x="291.3" y="592.6" font-size="6.45" fill="#5a5a5a" text-anchor="middle" font-weight="normal" >C2</text>
<text x="320.6" y="592.6" font-size="6.45" fill="#5a5a5a" text-anchor="middle" font-weight="normal" >D</text>
<text x="349.8" y="592.6" font-size="6.45" fill="#5a5a5a" text-anchor="middle" font-weight="normal" >E</text>
<text x="378.9" y="592.6" font-size="6.45" fill="#5a5a5a" text-anchor="middle" font-weight="normal" >F</text>
<text x="408.2" y="592.6" font-size="6.45" fill="#5a5a5a" text-anchor="middle" font-weight="normal" >Weight</text>
<text x="437.0" y="592.6" font-size="6.45" fill="#5a5a5a" text-anchor="middle" font-weight="normal" >Volume</text>
<text x="474.1" y="592.6" font-size="6.45" fill="#5a5a5a" text-anchor="middle" font-weight="normal" >Output BTU</text>
<text x="518.0" y="592.6" font-size="6.45" fill="#5a5a5a" text-anchor="middle" font-weight="normal" >Output Watts</text>
<text x="233.0" y="606.6" font-size="6.45" fill="#5a5a5a" text-anchor="middle" font-weight="normal" >mm</text>
<text x="262.1" y="606.6" font-size="6.45" fill="#5a5a5a" text-anchor="middle" font-weight="normal" >mm</text>
<text x="291.3" y="606.6" font-size="6.45" fill="#5a5a5a" text-anchor="middle" font-weight="normal" >mm</text>
<text x="320.6" y="606.6" font-size="6.45" fill="#5a5a5a" text-anchor="middle" font-weight="normal" >mm</text>
<text x="349.8" y="606.6" font-size="6.45" fill="#5a5a5a" text-anchor="middle" font-weight="normal" >mm</text>
<text x="378.9" y="606.6" font-size="6.45" fill="#5a5a5a" text-anchor="middle" font-weight="normal" >mm</text>
<text x="408.2" y="606.6" font-size="6.45" fill="#5a5a5a" text-anchor="middle" font-weight="normal" >Kg</text>
<text x="437.0" y="606.6" font-size="6.45" fill="#5a5a5a" text-anchor="middle" font-weight="normal" >dm&#179;</text>
<text x="461.3" y="607.3" font-size="9.8" fill="#333" text-anchor="start" font-weight="normal" >D</text>
<text x="470.1" y="607.2" font-size="7" fill="#5a5a5a" text-anchor="start" font-weight="normal" textLength="17.5" lengthAdjust="spacingAndGlyphs">T50&#176;C</text>
<text x="505.2" y="607.3" font-size="9.8" fill="#333" text-anchor="start" font-weight="normal" >D</text>
<text x="514.0" y="607.2" font-size="7" fill="#5a5a5a" text-anchor="start" font-weight="normal" textLength="17.5" lengthAdjust="spacingAndGlyphs">T50&#176;C</text>
<text x="554.8" y="594.6" font-size="6.45" fill="#5a5a5a" text-anchor="middle" font-weight="normal" >Hz</text>
<text x="554.8" y="605.2" font-size="6.45" fill="#5a5a5a" text-anchor="middle" font-weight="normal" >Output</text>
<text x="112" y="629.0" font-size="6.45" fill="#5a5a5a" text-anchor="start" font-weight="normal" >MP48X1380MB</text>
<text x="167.6" y="629.0" font-size="6.45" fill="#5a5a5a" text-anchor="start" font-weight="normal" >Matt White</text>
<text x="233.0" y="629.0" font-size="6.45" fill="#5a5a5a" text-anchor="middle" font-weight="normal" >1380</text>
<text x="262.1" y="629.0" font-size="6.45" fill="#5a5a5a" text-anchor="middle" font-weight="normal" >480</text>
<text x="291.3" y="629.0" font-size="6.45" fill="#5a5a5a" text-anchor="middle" font-weight="normal" >455</text>
<text x="320.6" y="629.0" font-size="6.45" fill="#5a5a5a" text-anchor="middle" font-weight="normal" >50</text>
<text x="349.8" y="629.0" font-size="6.45" fill="#5a5a5a" text-anchor="middle" font-weight="normal" >1200</text>
<text x="378.9" y="629.0" font-size="6.45" fill="#5a5a5a" text-anchor="middle" font-weight="normal" >90</text>
<text x="408.2" y="629.0" font-size="6.45" fill="#5a5a5a" text-anchor="middle" font-weight="normal" >10.33</text>
<text x="437.0" y="629.0" font-size="6.45" fill="#5a5a5a" text-anchor="middle" font-weight="normal" >5.02</text>
<text x="474.1" y="629.0" font-size="6.45" fill="#5a5a5a" text-anchor="middle" font-weight="normal" >1938</text>
<text x="518.0" y="629.0" font-size="6.45" fill="#5a5a5a" text-anchor="middle" font-weight="normal" >568</text>
<text x="554.8" y="629.0" font-size="6.45" fill="#5a5a5a" text-anchor="middle" font-weight="normal" >600</text>
<text x="112" y="639.0" font-size="6.45" fill="#5a5a5a" text-anchor="start" font-weight="normal" >MP48X1380MW</text>
<text x="167.6" y="639.0" font-size="6.45" fill="#5a5a5a" text-anchor="start" font-weight="normal" >Matt Black</text>
<text x="233.0" y="639.0" font-size="6.45" fill="#5a5a5a" text-anchor="middle" font-weight="normal" >1380</text>
<text x="262.1" y="639.0" font-size="6.45" fill="#5a5a5a" text-anchor="middle" font-weight="normal" >480</text>
<text x="291.3" y="639.0" font-size="6.45" fill="#5a5a5a" text-anchor="middle" font-weight="normal" >455</text>
<text x="320.6" y="639.0" font-size="6.45" fill="#5a5a5a" text-anchor="middle" font-weight="normal" >50</text>
<text x="349.8" y="639.0" font-size="6.45" fill="#5a5a5a" text-anchor="middle" font-weight="normal" >1200</text>
<text x="378.9" y="639.0" font-size="6.45" fill="#5a5a5a" text-anchor="middle" font-weight="normal" >90</text>
<text x="408.2" y="639.0" font-size="6.45" fill="#5a5a5a" text-anchor="middle" font-weight="normal" >10.33</text>
<text x="437.0" y="639.0" font-size="6.45" fill="#5a5a5a" text-anchor="middle" font-weight="normal" >5.02</text>
<text x="474.1" y="639.0" font-size="6.45" fill="#5a5a5a" text-anchor="middle" font-weight="normal" >1938</text>
<text x="518.0" y="639.0" font-size="6.45" fill="#5a5a5a" text-anchor="middle" font-weight="normal" >568</text>
<text x="554.8" y="639.0" font-size="6.45" fill="#5a5a5a" text-anchor="middle" font-weight="normal" >600</text>
<text x="112" y="650.0" font-size="6.45" fill="#5a5a5a" text-anchor="start" font-weight="normal" >MP48X13800F</text>
<text x="167.6" y="650.0" font-size="6.45" fill="#5a5a5a" text-anchor="start" font-weight="normal" >Brushed Brass*</text>
<text x="233.0" y="650.0" font-size="6.45" fill="#5a5a5a" text-anchor="middle" font-weight="normal" >1380</text>
<text x="262.1" y="650.0" font-size="6.45" fill="#5a5a5a" text-anchor="middle" font-weight="normal" >480</text>
<text x="291.3" y="650.0" font-size="6.45" fill="#5a5a5a" text-anchor="middle" font-weight="normal" >455</text>
<text x="320.6" y="650.0" font-size="6.45" fill="#5a5a5a" text-anchor="middle" font-weight="normal" >50</text>
<text x="349.8" y="650.0" font-size="6.45" fill="#5a5a5a" text-anchor="middle" font-weight="normal" >1200</text>
<text x="378.9" y="650.0" font-size="6.45" fill="#5a5a5a" text-anchor="middle" font-weight="normal" >90</text>
<text x="408.2" y="650.0" font-size="6.45" fill="#5a5a5a" text-anchor="middle" font-weight="normal" >10.33</text>
<text x="437.0" y="650.0" font-size="6.45" fill="#5a5a5a" text-anchor="middle" font-weight="normal" >5.02</text>
<text x="474.1" y="650.0" font-size="6.45" fill="#5a5a5a" text-anchor="middle" font-weight="normal" >1938</text>
<text x="518.0" y="650.0" font-size="6.45" fill="#5a5a5a" text-anchor="middle" font-weight="normal" >568</text>
<text x="554.8" y="650.0" font-size="6.45" fill="#5a5a5a" text-anchor="middle" font-weight="normal" >600</text>
<text x="167.6" y="659.8" font-size="6.45" fill="#5a5a5a" text-anchor="start" font-weight="normal" >*The finish is epoxy powder coat</text>
<text x="167.6" y="669.2" font-size="6.45" fill="#5a5a5a" text-anchor="start" font-weight="normal" >Working pressure: 1000 kPa</text>
<text x="167.6" y="678.2" font-size="6.45" fill="#5a5a5a" text-anchor="start" font-weight="normal" >Maximum operating temperature: 95&#176;C</text>
</svg></body></html>
